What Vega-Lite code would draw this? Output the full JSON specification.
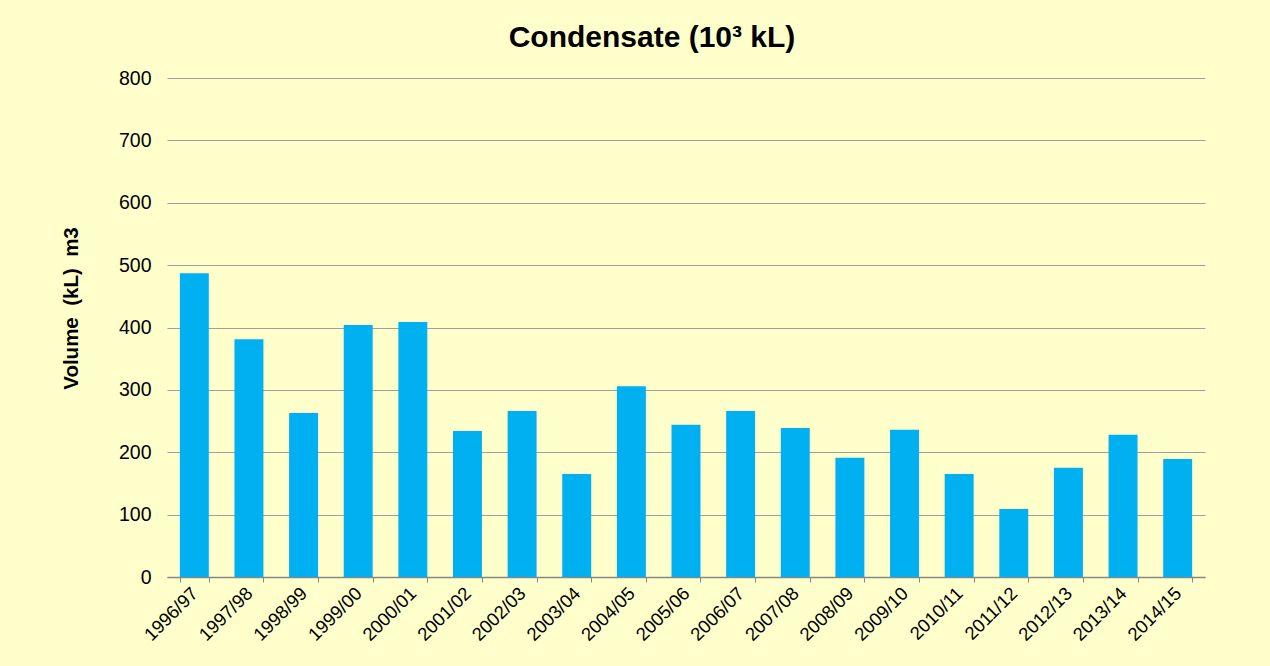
{
  "$schema": "https://vega.github.io/schema/vega-lite/v6.json",
  "width": 1038,
  "height": 499,
  "autosize": {"type": "none"},
  "padding": {"left": 167, "top": 78, "right": 65, "bottom": 89},
  "background": "#FFFFCC",
  "title": {
    "text": "Condensate (10³ kL)",
    "font": "Liberation Sans",
    "fontSize": 30,
    "fontWeight": "bold",
    "color": "#000000",
    "anchor": "middle",
    "frame": "group",
    "dx": -34,
    "offset": 15
  },
  "data": {
    "values": [
      {"year": "1996/97", "volume": 487},
      {"year": "1997/98", "volume": 381},
      {"year": "1998/99", "volume": 263},
      {"year": "1999/00", "volume": 404},
      {"year": "2000/01", "volume": 409},
      {"year": "2001/02", "volume": 234},
      {"year": "2002/03", "volume": 266},
      {"year": "2003/04", "volume": 165},
      {"year": "2004/05", "volume": 306},
      {"year": "2005/06", "volume": 244},
      {"year": "2006/07", "volume": 266},
      {"year": "2007/08", "volume": 239},
      {"year": "2008/09", "volume": 191},
      {"year": "2009/10", "volume": 236},
      {"year": "2010/11", "volume": 165},
      {"year": "2011/12", "volume": 109},
      {"year": "2012/13", "volume": 175},
      {"year": "2013/14", "volume": 228},
      {"year": "2014/15", "volume": 189}
    ]
  },
  "mark": {"type": "bar", "color": "#00B0F0"},
  "encoding": {
    "x": {
      "field": "year",
      "type": "ordinal",
      "sort": null,
      "scale": {"paddingInner": 0.47, "paddingOuter": 0.235},
      "axis": {
        "title": null,
        "labelAngle": -45,
        "labelAlign": "right",
        "labelBaseline": "middle",
        "labelFont": "Liberation Sans",
        "labelFontSize": 18.5,
        "labelColor": "#000000",
        "labelPadding": 8,
        "tickBand": "extent",
        "tickColor": "#868686",
        "tickSize": 5,
        "domainColor": "#868686",
        "domainWidth": 1.5,
        "grid": false
      }
    },
    "y": {
      "field": "volume",
      "type": "quantitative",
      "scale": {"domain": [0, 800], "nice": false},
      "axis": {
        "title": "Volume\u00a0\u00a0(kL)\u00a0\u00a0m3",
        "titleFont": "Liberation Sans",
        "titleFontSize": 20.5,
        "titleFontWeight": "bold",
        "titleColor": "#000000",
        "titleX": -96,
        "titleY": 230,
        "titleAlign": "center",
        "titleBaseline": "middle",
        "values": [0, 100, 200, 300, 400, 500, 600, 700, 800],
        "labelFont": "Liberation Sans",
        "labelFontSize": 19.5,
        "labelColor": "#000000",
        "labelPadding": 16,
        "ticks": false,
        "domain": false,
        "grid": true,
        "gridColor": "#A0A0A0",
        "gridWidth": 1
      }
    }
  },
  "config": {
    "view": {"stroke": null}
  }
}
